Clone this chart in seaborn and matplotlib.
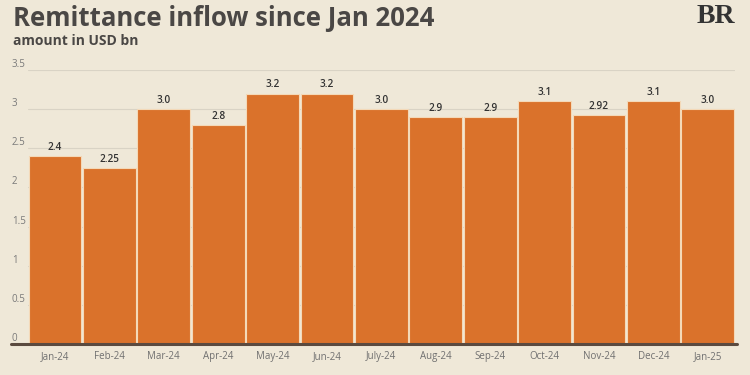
import matplotlib
matplotlib.use("Agg")
import matplotlib.pyplot as plt
import seaborn as sns
import pandas as pd

months = ["Jan-24", "Feb-24", "Mar-24", "Apr-24", "May-24", "Jun-24", "July-24",
          "Aug-24", "Sep-24", "Oct-24", "Nov-24", "Dec-24", "Jan-25"]
values = [2.4, 2.25, 3.0, 2.8, 3.2, 3.2, 3.0, 2.9, 2.9, 3.1, 2.92, 3.1, 3.0]
value_labels = ["2.4", "2.25", "3.0", "2.8", "3.2", "3.2", "3.0", "2.9", "2.9",
                "3.1", "2.92", "3.1", "3.0"]
yticks = [0, 0.5, 1, 1.5, 2, 2.5, 3, 3.5]
ytick_labels = ["0", "0.5", "1", "1.5", "2", "2.5", "3", "3.5"]

bg = "#EFE8D8"
bar_color = "#DA722B"
text_dark = "#4A4745"

sns.set_theme(style="white")
plt.rcParams["font.family"] = ["Open Sans", "DejaVu Sans"]

df = pd.DataFrame({"month": months, "value": values})

fig = plt.figure(figsize=(7.5, 3.75), dpi=100, facecolor=bg)
ax = fig.add_axes([0.037, 0.083, 0.943, 0.73])
ax.set_facecolor(bg)

sns.barplot(data=df, x="month", y="value", color=bar_color, saturation=1,
            width=0.97, edgecolor="#F4D9B8", linewidth=0.8, ax=ax, zorder=3)

for i, (v, lab) in enumerate(zip(values, value_labels)):
    ax.text(i, v + 0.04, lab, ha="center", va="bottom", fontsize=7.2,
            color="#333333", fontweight="semibold")

ax.set_ylim(0, 3.5)
ax.set_xlim(-0.5, len(months) - 0.5)
ax.set_yticks(yticks)
ax.set_yticklabels(ytick_labels)
ax.yaxis.grid(True, color="#D9D3C5", linewidth=0.8, zorder=0)
ax.tick_params(axis="y", labelsize=7, colors="#7a7a7a", length=0, pad=11.5)
ax.tick_params(axis="x", labelsize=7, colors="#707070", length=0, pad=5)
for lab in ax.get_yticklabels():
    lab.set_horizontalalignment("left")
    lab.set_verticalalignment("bottom")
for s in ax.spines.values():
    s.set_visible(False)
ax.set_xlabel("")
ax.set_ylabel("")

# baseline
fig.add_artist(plt.Line2D([0.014, 0.982], [0.083, 0.083], color="#5a4a3f",
                          linewidth=2.2, transform=fig.transFigure))

fig.text(0.017, 0.952, "Remittance inflow since Jan 2024", fontsize=18.5,
         fontweight="bold", color=text_dark, va="center", ha="left")
fig.text(0.018, 0.891, "amount in USD bn", fontsize=10, fontweight="bold",
         color=text_dark, va="center", ha="left")
fig.text(0.955, 0.955, "BR", fontsize=20, fontweight="bold", color="#333333",
         va="center", ha="center", family=["Liberation Serif", "DejaVu Serif"])

fig.savefig("out.png", dpi=100, facecolor=bg)
